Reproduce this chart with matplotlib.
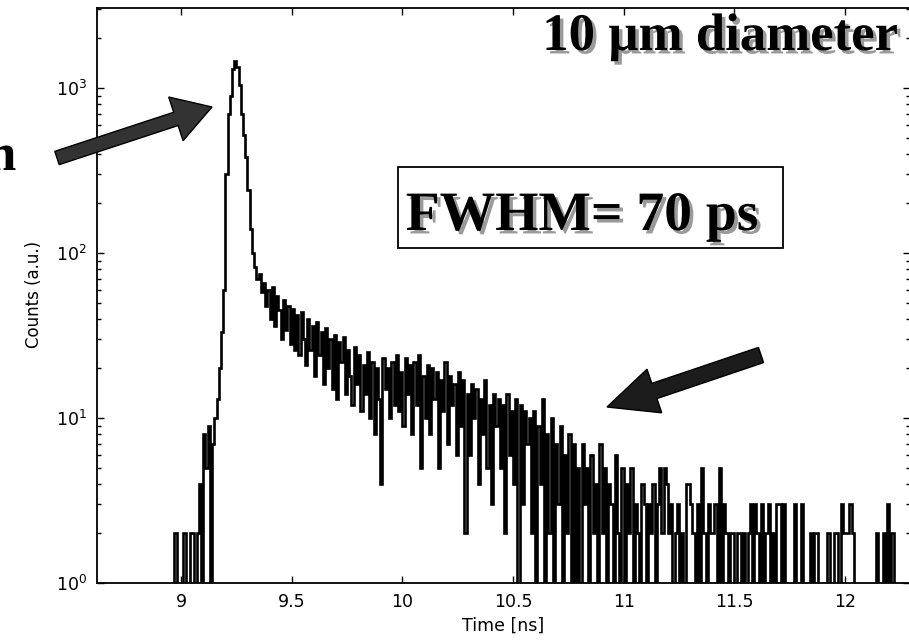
import numpy as np
import matplotlib
matplotlib.use("Agg")
import matplotlib.pyplot as plt
from matplotlib.transforms import IdentityTransform
from matplotlib.patches import FancyArrow, Rectangle
import matplotlib.patheffects as pe
from matplotlib.ticker import NullLocator

# ---- data (counts per 0.01 ns bin, starting at 8.90 ns) ----
bin_start_ns = 8.90
bin_width_ns = 0.01
counts = [
    0, 0, 0, 0, 0, 0, 0, 2, 1, 0,            # 8.90
    0, 2, 0, 0, 2, 2, 0, 2, 4, 0,            # 9.00
    8, 5, 9, 0, 7, 10, 13, 20, 33, 60,       # 9.10
    300, 700, 900, 1300, 1450, 1350, 1050, 700, 520, 380,  # 9.20
    240, 140, 100, 82, 70, 75, 58, 66, 48, 60,   # 9.30
    40, 62, 36, 55, 45, 30, 52, 34, 48, 28,      # 9.40
    46, 26, 42, 24, 44, 30, 21, 40, 26, 36,      # 9.50
    18, 38, 24, 33, 16, 35, 20, 30, 15, 32,      # 9.60
    13, 29, 22, 31, 14, 26, 18, 12, 27, 16,      # 9.70
    24, 11, 21, 14, 25, 10, 22, 8, 20, 13,       # 9.80
    4, 23, 15, 20, 10, 22, 12, 24, 11, 19,       # 9.90
    9, 23, 14, 21, 8, 22, 12, 24, 5, 18,         # 10.00
    10, 21, 8, 20, 13, 19, 5, 17, 11, 22,        # 10.10
    7, 18, 12, 16, 6, 19, 9, 17, 2, 14,          # 10.20
    6, 16, 10, 15, 4, 13, 8, 17, 5, 12,          # 10.30
    3, 14, 9, 13, 5, 12, 2, 14, 6, 11,           # 10.40
    4, 13, 0, 12, 3, 11, 7, 10, 2, 11,           # 10.50
    0, 9, 4, 13, 0, 8, 2, 10, 0, 7,              # 10.60
    3, 9, 0, 6, 2, 8, 0, 7, 1, 5,                # 10.70
    0, 7, 3, 5, 0, 6, 2, 4, 0, 7,                # 10.80
    2, 5, 0, 4, 3, 0, 6, 2, 0, 5,                # 10.90
    0, 4, 2, 5, 0, 3, 2, 0, 4, 3,                # 11.00
    0, 3, 2, 4, 0, 3, 5, 2, 5, 4,                # 11.10
    2, 3, 0, 2, 3, 0, 2, 0, 4, 4,                # 11.20
    3, 2, 0, 3, 0, 5, 2, 0, 3, 2,                # 11.30
    2, 3, 0, 5, 0, 3, 2, 0, 2, 2,                # 11.40
    0, 2, 2, 0, 2, 0, 2, 3, 0, 3,                # 11.50
    2, 0, 3, 0, 2, 3, 0, 2, 0, 3,                # 11.60
    3, 0, 3, 0, 0, 0, 0, 3, 0, 0,                # 11.70
    3, 0, 0, 0, 2, 0, 2, 2, 0, 0,                # 11.80
    0, 0, 2, 0, 0, 2, 2, 0, 3, 2,                # 11.90
    2, 2, 3, 2, 0, 0, 0, 0, 0, 0,                # 12.00
    0, 0, 0, 0, 2, 0, 0, 2, 0, 3,                # 12.10
    0, 2, 0, 0, 0, 0, 0, 0, 0, 0,                # 12.20
]
x_ticks = [9, 9.5, 10, 10.5, 11, 11.5, 12]
x_tick_labels = ["9", "9.5", "10", "10.5", "11", "11.5", "12"]
x_label = "Time [ns]"
y_label = "Counts (a.u.)"
title_text = "10 \u00b5m diameter"
fwhm_text = "FWHM= 70 ps"

time_ns = bin_start_ns + bin_width_ns * np.arange(len(counts))
counts_arr = np.array(counts, dtype=float)

W, H = 909, 643
fig = plt.figure(figsize=(W / 100, H / 100), dpi=100)
fig.patch.set_facecolor("white")

ax = fig.add_axes([97 / W, 1 - 583 / H, 813 / W, 575 / H])
ax.step(time_ns, counts_arr, where="post", color="black", lw=1.9,
        solid_joinstyle="miter")
ax.set_yscale("log", nonpositive="clip")
ax.set_ylim(1, 3055)
ax.set_xlim(8.62, 8.62 + 813 / 221.3)

ax.set_xticks(x_ticks)
ax.set_xticklabels(x_tick_labels)
ax.xaxis.set_minor_locator(NullLocator())
ax.tick_params(which="both", direction="in", top=True, right=True,
               labelsize=12.5, width=1.0)
ax.tick_params(which="major", length=5)
ax.tick_params(which="minor", length=3)
ax.tick_params(axis="x", pad=7)
ax.tick_params(axis="y", pad=7)
for s in ax.spines.values():
    s.set_linewidth(1.3)

ax.set_xlabel(x_label, fontsize=12.5, labelpad=4)
fig.text(34, H - 294, y_label, rotation=90, ha="center", va="center",
         fontsize=12, transform=IdentityTransform())

def P(x, y):
    return x, H - y

shadow = [pe.withSimplePatchShadow(offset=(2.5, -2.5), shadow_rgbFace="#9a9a9a", alpha=1.0)]

t1 = fig.text(*P(720, 50), title_text, ha="center", va="baseline",
              fontsize=38, fontweight="bold", family="Liberation Serif",
              transform=IdentityTransform(), zorder=5)
t1.set_path_effects(shadow)

box = Rectangle(P(398, 248), 385, 81, fill=True, fc="white", ec="black", lw=1.3,
                transform=IdentityTransform(), zorder=4)
fig.add_artist(box)
t2 = fig.text(*P(582, 230), fwhm_text, ha="center", va="baseline",
              fontsize=40, fontweight="bold", family="Liberation Serif",
              transform=IdentityTransform(), zorder=5)
t2.set_path_effects(shadow)

t3 = fig.text(*P(16, 170), "n", ha="right", va="baseline",
              fontsize=38, fontweight="bold", family="Liberation Serif",
              transform=IdentityTransform(), zorder=5)

# arrows (pixel coordinates)
def arrow(x0, y0, x1, y1, width, hw, hl, fc):
    xa, ya = P(x0, y0)
    xb, yb = P(x1, y1)
    a = FancyArrow(xa, ya, xb - xa, yb - ya, width=width, head_width=hw,
                   head_length=hl, length_includes_head=True,
                   fc=fc, ec="black", lw=1.0, transform=IdentityTransform(),
                   zorder=6)
    fig.add_artist(a)

arrow(57, 158, 212, 107, 14, 46, 38, "#333333")
arrow(761, 355, 607, 407, 16, 46, 50, "#1c1c1c")

fig.savefig("out.png", dpi=100)
